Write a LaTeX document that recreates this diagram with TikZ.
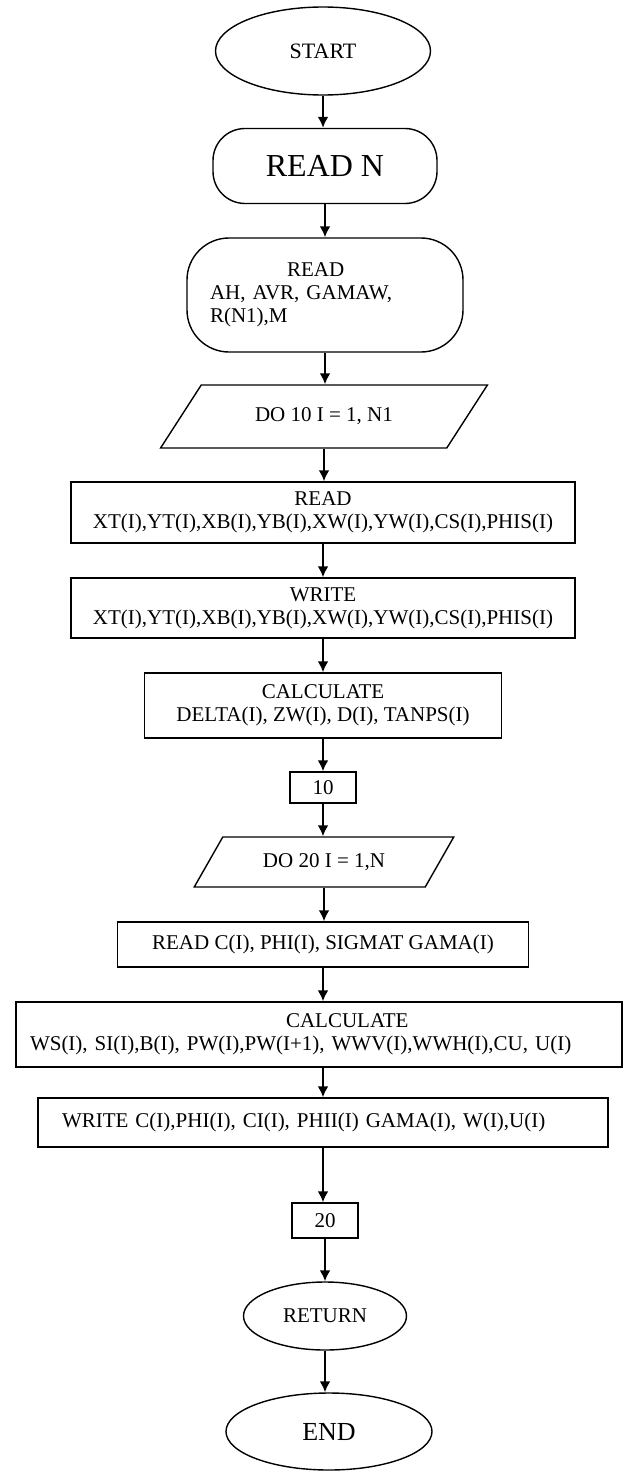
\documentclass[tikz,border=0pt]{standalone}
\usepackage{fontspec}
\setmainfont{Liberation Serif}
\usetikzlibrary{shapes.geometric,arrows.meta}

\begin{document}
\begin{tikzpicture}[x=1pt,y=1pt,yscale=-1,xscale=1,
  every node/.style={font=\fontsize{21}{23}\selectfont,inner sep=0pt,line width=1.4pt},
  term/.style={draw,ellipse},
  rbox/.style={draw,rectangle},
  loopbox/.style={draw,trapezium,trapezium stretches=true},
  arr/.style={line width=2.6pt,-{Latex[length=11pt,width=11pt]}}]
\useasboundingbox (0,0) rectangle (623,1472);

%Shape: Ellipse
\node [term,minimum width=215,minimum height=88,font=\fontsize{22}{24}\selectfont] (start) at (323,51) {START};
%Shape: Rounded Rect
\node [rbox,rounded corners=32pt,minimum width=224,minimum height=75,font=\fontsize{32}{34}\selectfont] (readn) at (325,166) {READ N};
%Shape: Rounded Rect
\node [rbox,rounded corners=42pt,minimum width=276,minimum height=114,text width=230,inner xsep=23pt,align=left] (readah) at (325,295) {\hspace*{77pt}READ\\AH, AVR, GAMAW,\\R(N1),M};
%Shape: Parallelogram
\node [loopbox,trapezium left angle=37,trapezium right angle=143,minimum width=327,minimum height=63] (do10) at (324,416.5) {DO 10 I = 1, N1};
%Shape: Rectangle
\node [rbox,minimum width=504,minimum height=61,align=center] (readxt) at (323,512.5) {READ\\XT(I),YT(I),XB(I),YB(I),XW(I),YW(I),CS(I),PHIS(I)};
%Shape: Rectangle
\node [rbox,minimum width=504,minimum height=60,align=center] (writext) at (323,608) {WRITE\\XT(I),YT(I),XB(I),YB(I),XW(I),YW(I),CS(I),PHIS(I)};
%Shape: Rectangle
\node [rbox,minimum width=357,minimum height=65,align=center] (calcd) at (323,705.5) {CALCULATE\\DELTA(I), ZW(I), D(I), TANPS(I)};
%Shape: Rectangle
\node [rbox,minimum width=66,minimum height=31] (ten) at (323,787.5) {10};
%Shape: Parallelogram
\node [loopbox,trapezium left angle=45,trapezium right angle=135,minimum width=260,minimum height=50] (do20) at (324,862) {DO 20 I = 1,N};
%Shape: Rectangle
\node [rbox,minimum width=411,minimum height=45] (readc) at (323,944.5) {READ C(I), PHI(I), SIGMAT GAMA(I)};
%Shape: Rectangle
\node [rbox,minimum width=606,minimum height=65,text width=578,inner xsep=14pt,align=left] (calcws) at (319,1034.5) {\hspace*{256pt}CALCULATE\\WS(I), SI(I),B(I), PW(I),PW(I+1), WWV(I),WWH(I),CU, U(I)};
%Shape: Rectangle
\node [rbox,minimum width=570,minimum height=49,text width=522,inner xsep=24pt,align=left] (writec) at (323,1122.5) {WRITE C(I),PHI(I), CI(I), PHII(I) GAMA(I), W(I),U(I)};
%Shape: Rectangle
\node [rbox,minimum width=66,minimum height=35] (twenty) at (325,1220.5) {20};
%Shape: Ellipse
\node [term,minimum width=163,minimum height=68] (return) at (325,1316) {RETURN};
%Shape: Ellipse
\node [term,minimum width=206,minimum height=77,font=\fontsize{26}{28}\selectfont] (end) at (329,1431.5) {END};

%Straight Lines
\draw [arr] (start.south) -- (start.south |- readn.north);
\draw [arr] (readn.south) -- (readn.south |- readah.north);
\draw [arr] (readah.south) -- (readah.south |- do10.north);
\draw [arr] (do10.south) -- (do10.south |- readxt.north);
\draw [arr] (readxt.south) -- (readxt.south |- writext.north);
\draw [arr] (writext.south) -- (writext.south |- calcd.north);
\draw [arr] (calcd.south) -- (calcd.south |- ten.north);
\draw [arr] (ten.south) -- (ten.south |- do20.north);
\draw [arr] (do20.south) -- (do20.south |- readc.north);
\draw [arr] (readc.south) -- (readc.south |- calcws.north);
\draw [arr] (readc.south |- calcws.south) -- (readc.south |- writec.north);
\draw [arr] (writec.south) -- (writec.south |- twenty.north);
\draw [arr] (twenty.south) -- (twenty.south |- return.north);
\draw [arr] (return.south) -- (return.south |- end.north);

\end{tikzpicture}
\end{document}
